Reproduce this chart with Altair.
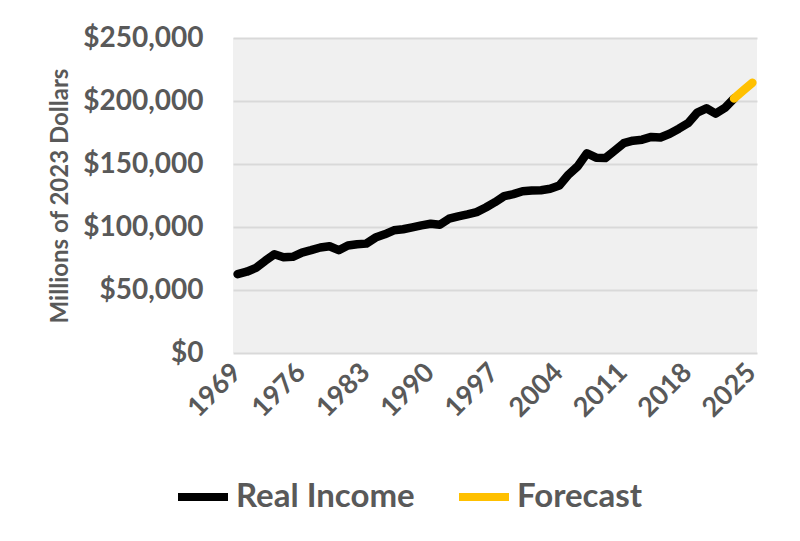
import altair as alt
import pandas as pd

years = list(range(1969, 2024))
real_income = [
    62600, 64500, 67600, 73200, 78400, 76000, 76300, 79700, 81600, 83700,
    84700, 81600, 85300, 86300, 86800, 91600, 94200, 97400, 98200, 99700,
    101300, 102600, 101800, 106600, 108400, 110000, 111800, 115500, 119700, 124500,
    126100, 128400, 129000, 129200, 130300, 132900, 141600, 148200, 158500, 155000,
    154700, 160500, 166500, 168500, 169300, 171500, 171000, 174000, 178000, 182400,
    190800, 194200, 190000, 194500, 202000,
]
forecast_years = [2023, 2024, 2025]
forecast = [202000, 208300, 214500]

series_names = ["Real Income", "Forecast"]
series_colors = ["#000000", "#FFC000"]
x_tick_values = [1969, 1976, 1983, 1990, 1997, 2004, 2011, 2018, 2025]
y_tick_values = [0, 50000, 100000, 150000, 200000, 250000]

df = pd.concat([
    pd.DataFrame({"year": years, "value": real_income, "series": "Real Income"}),
    pd.DataFrame({"year": forecast_years, "value": forecast, "series": "Forecast"}),
])

FONT = "Lato"
GRAY = "#595959"

chart = alt.Chart(df).mark_line(strokeWidth=8.5, strokeCap="round", strokeJoin="round").encode(
    x=alt.X("year:Q",
            scale=alt.Scale(domain=[1968.5, 2025.5], nice=False, zero=False),
            axis=alt.Axis(values=x_tick_values, format="d", labelAngle=-45, grid=False,
                          ticks=False, domain=False, labelFontSize=27, labelFont=FONT,
                          labelFontWeight="bold", labelColor=GRAY, labelPadding=15,
                          labelBaseline="middle", labelOffset=-1,
                          title=None)),
    y=alt.Y("value:Q",
            scale=alt.Scale(domain=[0, 250000], nice=False),
            axis=alt.Axis(values=y_tick_values, format="$,.0f", gridColor="#d9d9d9",
                          gridWidth=2, ticks=False, domain=False, labelPadding=30,
                          labelFontSize=28, labelFont=FONT, labelFontWeight="bold",
                          labelColor=GRAY, title="Millions of 2023 Dollars",
                          titleFont=FONT, titleFontSize=24, titleFontWeight="bold",
                          titleColor=GRAY, titlePadding=10)),
    color=alt.Color("series:N",
                    scale=alt.Scale(domain=series_names, range=series_colors),
                    sort=series_names,
                    legend=alt.Legend(orient="none", legendX=-59, legendY=430,
                                      direction="horizontal", symbolType="stroke",
                                      symbolSize=2500, symbolStrokeWidth=8,
                                      labelFontSize=33, labelFont=FONT,
                                      labelFontWeight="bold", labelColor=GRAY,
                                      title=None, columnPadding=28, labelOffset=4,
                                      labelLimit=400)),
    detail="series:N",
).properties(
    width=524,
    height=315,
    padding={"left": 225, "top": 30, "right": 35, "bottom": 170},
    autosize=alt.AutoSizeParams(type="none"),
).configure_view(fill="#f0f0f0", strokeWidth=0)

chart.save("out.html", embed_options={"renderer": "svg", "actions": False})
